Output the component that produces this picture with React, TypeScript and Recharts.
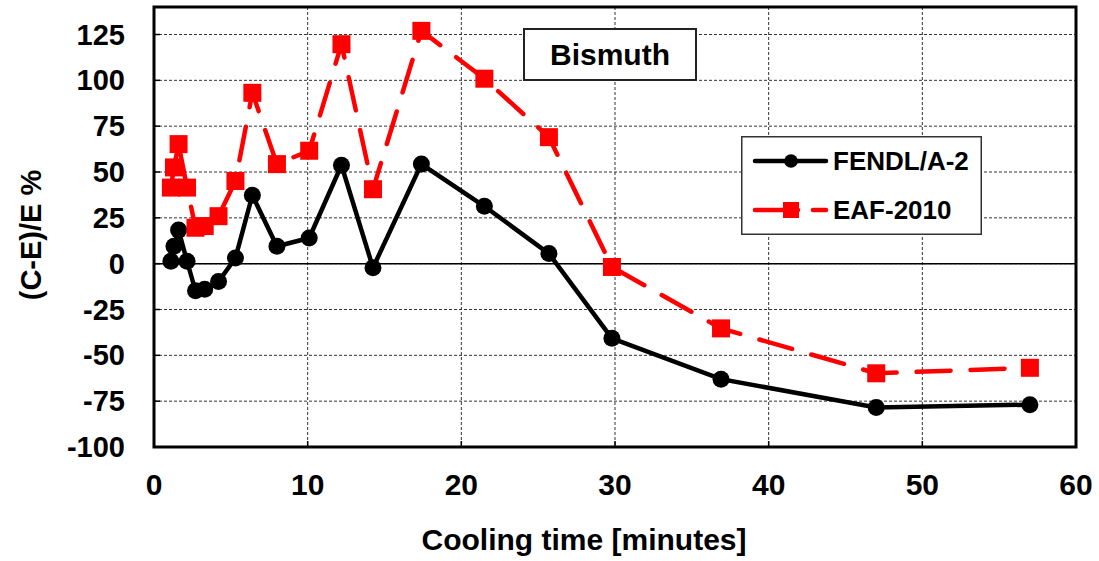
import React from 'react';
import {
  LineChart,
  Line,
  XAxis,
  YAxis,
  CartesianGrid,
  ReferenceLine,
  ReferenceArea,
  Legend,
} from 'recharts';

const coolingTimes = [1.1, 1.3, 1.6, 2.15, 2.7, 3.3, 4.2, 5.3, 6.4, 8.0, 10.1, 12.2, 14.25, 17.4, 21.5, 25.7, 29.8, 36.9, 47.0, 57.0];
const fendl = [1.3, 9.5, 18.3, 1.3, -14.8, -13.9, -9.7, 3.1, 37.3, 9.5, 14, 53.7, -2.2, 54.3, 31.3, 5.5, -40.7, -63, -78.4, -76.9];
const eaf = [41.5, 52.5, 65.2, 41.5, 19.6, 20.5, 25.9, 45.1, 93.2, 54.3, 61.6, 119.7, 40.6, 127.0, 100.9, 69, -1.8, -35.3, -59.8, -56.8];
const xTicks = [0, 10, 20, 30, 40, 50, 60];
const yTicks = [-100, -75, -50, -25, 0, 25, 50, 75, 100, 125];
const seriesNames = ['FENDL/A-2', 'EAF-2010'];
const titleText = 'Bismuth';

const data = coolingTimes.map((t, i) => ({ t, fendl: fendl[i], eaf: eaf[i] }));

const FONT = '"Liberation Sans", Arial, sans-serif';
const TICK_MARGIN_Y = 29;
const TICK_MARGIN_X = 27;

const YTick = (props: any) => {
  const { x, y, payload } = props;
  const axisX = x + TICK_MARGIN_Y;
  return (
    <g>
      <line x1={axisX} x2={axisX + 6} y1={y} y2={y} stroke="#000" strokeWidth={1.5} />
      <text x={x} y={y} textAnchor="end" dominantBaseline="central" fontFamily={FONT} fontWeight="bold" fontSize={29} fill="#000">
        {payload.value}
      </text>
    </g>
  );
};

const XTick = (props: any) => {
  const { x, y, payload } = props;
  const axisY = y - TICK_MARGIN_X;
  return (
    <g>
      <line x1={x} x2={x} y1={axisY} y2={axisY - 6} stroke="#000" strokeWidth={1.5} />
      <text x={x} y={y} dy="0.71em" textAnchor="middle" fontFamily={FONT} fontWeight="bold" fontSize={30} fill="#000">
        {payload.value}
      </text>
    </g>
  );
};

const SquareDot = (props: any) => {
  const { cx, cy, index } = props;
  if (cx == null || cy == null) return <g key={index} />;
  const s = 18;
  return <rect key={index} x={cx - s / 2} y={cy - s / 2} width={s} height={s} fill="#ff0000" />;
};

const LegendContent = () => (
  <svg width={241} height={99} style={{ display: 'block' }}>
    <rect x={0.75} y={0.75} width={239.5} height={97.5} fill="#fff" stroke="#333" strokeWidth={1.5} />
    <line x1={14} x2={85} y1={25} y2={25} stroke="#000" strokeWidth={4.5} strokeLinecap="round" />
    <circle cx={50} cy={25} r={6.8} fill="#000" />
    <text x={92} y={25} dominantBaseline="central" fontFamily={FONT} fontWeight="bold" fontSize={26} fill="#000">
      {seriesNames[0]}
    </text>
    <line x1={14} x2={57} y1={74} y2={74} stroke="#ff0000" strokeWidth={4.5} strokeLinecap="round" />
    <line x1={72} x2={85} y1={74} y2={74} stroke="#ff0000" strokeWidth={4.5} strokeLinecap="round" />
    <rect x={42} y={66} width={16} height={16} fill="#ff0000" />
    <text x={92} y={74} dominantBaseline="central" fontFamily={FONT} fontWeight="bold" fontSize={26} fill="#000">
      {seriesNames[1]}
    </text>
  </svg>
);

export default function App() {
  return (
    <div style={{ position: 'absolute', left: 0, top: 0, width: 1099, height: 561, background: '#fff' }}>
      <LineChart width={1099} height={561} data={data} margin={{ top: 7, right: 23, bottom: 0, left: 0 }}>
        <CartesianGrid stroke="#333" strokeDasharray="3 2" strokeWidth={1} />
        <XAxis
          type="number"
          dataKey="t"
          domain={[0, 60]}
          ticks={xTicks}
          height={114}
          axisLine={false}
          tickLine={false}
          tickSize={0}
          tickMargin={TICK_MARGIN_X}
          tick={<XTick />}
          interval={0}
          label={(p: any) => {
            const vb = p.viewBox;
            return (
              <text x={vb.x + 430} y={vb.y + 103} textAnchor="middle" fontFamily={FONT} fontWeight="bold" fontSize={30} fill="#000">
                Cooling time [minutes]
              </text>
            );
          }}
        />
        <YAxis
          type="number"
          domain={[-100, 140]}
          ticks={yTicks}
          width={154}
          axisLine={false}
          tickLine={false}
          tickSize={0}
          tickMargin={TICK_MARGIN_Y}
          tick={<YTick />}
          interval={0}
          allowDataOverflow
          label={(p: any) => {
            const vb = p.viewBox;
            const cx = vb.x + 31;
            const cy = vb.y + vb.height / 2 + 8;
            return (
              <text x={cx} y={cy} textAnchor="middle" dominantBaseline="central" transform={`rotate(-90 ${cx} ${cy})`} fontFamily={FONT} fontWeight="bold" fontSize={29} fill="#000">
                (C-E)/E %
              </text>
            );
          }}
        />
        <ReferenceLine y={0} stroke="#000" strokeWidth={1.5} />
        <ReferenceArea x1={0} x2={60} y1={-100} y2={140} fill="none" fillOpacity={0} stroke="#000" strokeWidth={3} ifOverflow="visible" />
        <Line
          type="linear"
          dataKey="fendl"
          name={seriesNames[0]}
          stroke="#000"
          strokeWidth={4.5}
          dot={{ r: 8.5, fill: '#000', stroke: '#000', strokeWidth: 0 }}
          activeDot={false}
          isAnimationActive={false}
        />
        <Line
          type="linear"
          dataKey="eaf"
          name={seriesNames[1]}
          stroke="#ff0000"
          strokeWidth={4.5}
          strokeDasharray="34 20"
          strokeLinecap="round"
          dot={<SquareDot />}
          activeDot={false}
          isAnimationActive={false}
        />
        <Legend
          layout="horizontal"
          verticalAlign="middle"
          align="center"
          content={<LegendContent />}
          wrapperStyle={{ position: 'absolute', left: 741, top: 136, width: 241, height: 99 }}
        />
      </LineChart>
      <div
        style={{
          position: 'absolute',
          left: 523,
          top: 28,
          width: 174,
          height: 53,
          boxSizing: 'border-box',
          border: '2px solid #222',
          background: '#fff',
          display: 'flex',
          alignItems: 'center',
          justifyContent: 'center',
          fontFamily: FONT,
          fontWeight: 'bold',
          fontSize: 30,
          color: '#000',
        }}
      >
        {titleText}
      </div>
    </div>
  );
}
